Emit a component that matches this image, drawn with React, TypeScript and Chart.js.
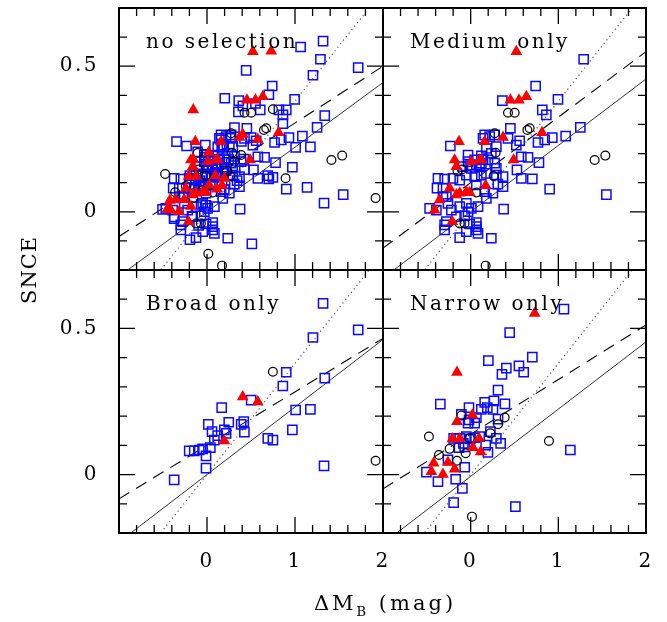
import React, { useEffect, useRef } from 'react';
import { Chart, registerables } from 'chart.js';

Chart.register(...registerables);

type Pt = [number, number];

// ---------- data (ΔM_B in mag, SNCE) ----------
const mediumSquares: Pt[] = [
  [1.289, 0.524], [0.741, 0.432], [0.996, 0.386], [0.361, 0.382], [0.817, 0.35], [0.863, 0.333],
  [1.251, 0.29], [0.453, 0.287], [1.084, 0.26], [0.931, 0.255], [0.844, 0.247], [0.768, 0.238],
  [-0.232, 0.226], [0.141, 0.252], [0.217, 0.258], [0.274, 0.264], [0.16, 0.264], [0.426, 0.252],
  [0.521, 0.229], [0.559, 0.244], [0.654, 0.187], [0.578, 0.189], [0.779, 0.169], [0.528, 0.144],
  [0.578, 0.115], [0.703, 0.113], [0.901, 0.078], [1.548, 0.059], [0.376, 0.009], [0.236, -0.091],
  [-0.125, -0.089], [-0.297, -0.062], [-0.468, 0.012], [0.065, -0.062], [0.065, -0.037], [-0.011, -0.042],
  [-0.049, -0.068], [-0.384, 0.081], [-0.297, 0.112], [-0.03, 0.195], [0.122, 0.192], [-0.03, 0.172],
  [0.046, 0.178], [0.122, 0.167], [0.197, 0.178], [0.274, 0.167], [-0.373, 0.115], [-0.316, 0.081],
  [-0.202, 0.115], [-0.125, 0.109], [-0.049, 0.126], [0.046, 0.121], [0.122, 0.126], [0.179, 0.132],
  [0.293, 0.126], [0.369, 0.121], [0.369, 0.086], [0.065, 0.092], [0.16, 0.069], [-0.277, 0.052],
  [-0.049, 0.029], [0.008, 0.012], [0.084, 0.018], [-0.297, -0.045], [0.065, -0.051], [0.084, -0.074],
  [-0.391, 0.006], [-0.316, 0.052], [-0.259, 0.029], [-0.22, 0.006], [-0.125, 0.018], [-0.03, 0.0],
  [-0.163, -0.017], [-0.068, -0.014], [-0.277, -0.034], [0.179, 0.046], [0.254, 0.064], [0.31, 0.095],
  [0.293, 0.149], [0.103, 0.155], [0.008, 0.149], [-0.087, 0.155], [0.179, 0.218], [0.293, 0.224],
  [0.236, 0.201], [-0.011, 0.159], [0.065, 0.162], [0.141, 0.18],
];
const mediumCircles: Pt[] = [
  [0.426, 0.34], [0.502, 0.34], [0.647, 0.281], [0.673, 0.287], [1.414, 0.178], [1.536, 0.193],
  [0.274, 0.27], [0.285, 0.203], [-0.15, 0.14], [-0.1, 0.145], [0.262, 0.123], [0.065, 0.066],
  [-0.125, -0.04], [-0.07, -0.04], [0.171, -0.185],
];
const mediumTriangles: Pt[] = [
  [0.521, 0.55], [0.453, 0.384], [0.551, 0.384], [0.635, 0.396], [0.814, 0.272], [-0.133, 0.241],
  [0.369, 0.256], [0.16, 0.241], [-0.183, 0.178], [0.49, 0.178], [0.122, 0.178], [0.171, 0.09],
  [-0.011, 0.066], [-0.125, 0.064], [-0.163, 0.058], [-0.24, 0.081], [-0.354, 0.041], [-0.411, 0.006],
  [-0.209, -0.034], [-0.163, 0.155], [0.008, 0.172], [0.103, 0.178], [-0.049, 0.069],
];

const broadSquares: Pt[] = [
  [1.319, 0.586], [1.718, 0.495], [1.204, 0.469], [0.901, 0.35], [0.862, 0.303], [1.338, 0.33],
  [0.502, 0.255], [0.167, 0.229], [1.007, 0.221], [1.175, 0.223], [0.015, 0.172], [0.247, 0.179],
  [0.388, 0.172], [0.418, 0.181], [0.057, 0.147], [0.197, 0.153], [0.217, 0.141], [0.425, 0.145],
  [0.121, 0.133], [0.083, 0.118], [0.97, 0.153], [0.691, 0.124], [0.749, 0.118], [-0.202, 0.081],
  [-0.145, 0.081], [-0.088, 0.084], [-0.05, 0.088], [0.038, 0.092], [-0.011, 0.064], [-0.011, 0.022],
  [-0.373, -0.018], [1.33, 0.03],
];
const broadCircles: Pt[] = [[0.749, 0.352], [1.916, 0.047]];
const broadTriangles: Pt[] = [[0.406, 0.266], [0.577, 0.249], [0.197, 0.115]];

const narrowSquares: Pt[] = [
  [1.064, 0.566], [0.445, 0.486], [0.703, 0.402], [0.202, 0.39], [0.407, 0.364], [0.551, 0.372],
  [0.357, 0.343], [0.605, 0.35], [0.312, 0.289], [-0.346, 0.241], [-0.019, 0.229], [0.16, 0.247],
  [0.266, 0.252], [0.122, 0.223], [0.19, 0.229], [0.254, 0.223], [0.391, 0.242], [-0.106, 0.206],
  [-0.019, 0.187], [0.065, 0.195], [0.312, 0.19], [0.225, 0.147], [0.293, 0.124], [0.342, 0.107],
  [0.171, 0.101], [0.197, 0.076], [1.137, 0.084], [-0.194, 0.124], [-0.125, 0.124], [-0.049, 0.13],
  [-0.003, 0.122], [0.046, 0.126], [0.103, 0.13], [-0.133, 0.092], [-0.068, 0.095], [-0.259, 0.05],
  [-0.068, 0.025], [-0.505, 0.008], [-0.373, -0.024], [-0.171, -0.016], [-0.095, -0.047], [-0.194, -0.096],
  [0.51, -0.11], [-0.03, 0.176], [0.046, 0.176], [-0.084, 0.107],
];
const narrowCircles: Pt[] = [
  [-0.476, 0.13], [-0.362, 0.067], [-0.24, 0.088], [-0.156, 0.047], [-0.106, 0.202], [-0.057, 0.073],
  [-0.011, 0.124], [0.225, 0.141], [0.312, 0.172], [0.388, 0.195], [0.893, 0.115], [0.015, -0.144],
];
const narrowTriangles: Pt[] = [
  [0.73, 0.552], [-0.156, 0.35], [-0.156, 0.181], [0.019, 0.204], [-0.209, 0.122], [-0.125, 0.122],
  [0.095, 0.124], [0.026, 0.092], [0.114, 0.078], [-0.422, 0.039], [-0.448, 0.01], [-0.316, 0.001],
  [-0.259, 0.042], [-0.183, 0.019],
];

// line fits: [intercept, slope]
const fitsAll = { solid: [0.0, 0.222], dashed: [0.11, 0.195], dotted: [0.0, 0.38] };
const fitsMedium = { solid: [0.0, 0.228], dashed: [0.1, 0.225], dotted: [0.0, 0.38] };
const fitsBroad = { solid: [0.0, 0.231], dashed: [0.1, 0.183], dotted: [0.0, 0.38] };
const fitsNarrow = { solid: [-0.006, 0.23], dashed: [0.138, 0.187], dotted: [0.0, 0.38] };

const xRange: [number, number] = [-1, 2];
const yRange: [number, number] = [-0.2, 0.7];
const xLabelValues = [0, 1, 2];
const yLabelValues = [0, 0.5];

const panelTitles = ['no selection', 'Medium only', 'Broad only', 'Narrow only'];

// ---------- layout ----------
const W = 667;
const H = 622;
const LEFT = 119;
const MIDX = 383;
const RIGHT = 646;
const TOP = 8;
const MIDY = 270;
const BOTTOM = 533;
const FONT = 'DejaVu Serif';
const FSIZE = 20;
const SPACING = '2.5px';

type Fits = { solid: number[]; dashed: number[]; dotted: number[] };
type Panel = {
  title: string;
  squares: Pt[];
  circles: Pt[];
  triangles: Pt[];
  fits: Fits;
  box: { l: number; t: number; r: number; b: number };
  showX: boolean;
  showY: boolean;
};

const panels: Panel[] = [
  {
    title: panelTitles[0],
    squares: [...mediumSquares, ...broadSquares, ...narrowSquares],
    circles: [...mediumCircles, ...broadCircles, ...narrowCircles],
    triangles: [...mediumTriangles, ...broadTriangles, ...narrowTriangles],
    fits: fitsAll,
    box: { l: LEFT, t: TOP, r: MIDX, b: MIDY },
    showX: false,
    showY: true,
  },
  {
    title: panelTitles[1],
    squares: mediumSquares,
    circles: mediumCircles,
    triangles: mediumTriangles,
    fits: fitsMedium,
    box: { l: MIDX, t: TOP, r: RIGHT, b: MIDY },
    showX: false,
    showY: false,
  },
  {
    title: panelTitles[2],
    squares: broadSquares,
    circles: broadCircles,
    triangles: broadTriangles,
    fits: fitsBroad,
    box: { l: LEFT, t: MIDY, r: MIDX, b: BOTTOM },
    showX: true,
    showY: true,
  },
  {
    title: panelTitles[3],
    squares: narrowSquares,
    circles: narrowCircles,
    triangles: narrowTriangles,
    fits: fitsNarrow,
    box: { l: MIDX, t: MIDY, r: RIGHT, b: BOTTOM },
    showX: true,
    showY: false,
  },
];

const near = (a: number, b: number) => Math.abs(a - b) < 1e-6;
const toXY = (pts: Pt[]) => pts.map(([x, y]) => ({ x, y }));
const fitLine = (f: number[]) => xRange.map((x) => ({ x, y: f[0] + f[1] * x }));

const zeroPad = (s: any) => {
  s.paddingTop = 0;
  s.paddingBottom = 0;
  s.paddingLeft = 0;
  s.paddingRight = 0;
};

const framePlugin = {
  id: 'frameTicks',
  beforeDraw(chart: any) {
    (chart.ctx as any).letterSpacing = SPACING;
  },
  afterDraw(chart: any) {
    const ctx = chart.ctx as CanvasRenderingContext2D;
    const a = chart.chartArea;
    const xs = chart.scales.x;
    const ys = chart.scales.y;
    ctx.save();
    ctx.strokeStyle = '#000';
    ctx.lineWidth = 1.3;
    ctx.beginPath();
    for (const t of xs.ticks) {
      const px = xs.getPixelForValue(t.value);
      const len = near(t.value, Math.round(t.value)) ? 16 : 8;
      ctx.moveTo(px, a.top);
      ctx.lineTo(px, a.top + len);
      ctx.moveTo(px, a.bottom);
      ctx.lineTo(px, a.bottom - len);
    }
    for (const t of ys.ticks) {
      const py = ys.getPixelForValue(t.value);
      const len = near(t.value * 2, Math.round(t.value * 2)) ? 16 : 8;
      ctx.moveTo(a.left, py);
      ctx.lineTo(a.left + len, py);
      ctx.moveTo(a.right, py);
      ctx.lineTo(a.right - len, py);
    }
    ctx.stroke();
    ctx.lineWidth = 2;
    ctx.strokeRect(a.left, a.top, a.right - a.left, a.bottom - a.top);
    const title = chart.options.plugins.frameTicks?.title ?? '';
    (ctx as any).letterSpacing = SPACING;
    ctx.fillStyle = '#000';
    ctx.font = `${FSIZE}px "${FONT}"`;
    ctx.textAlign = 'left';
    ctx.textBaseline = 'alphabetic';
    ctx.fillText(title, a.left + 27, a.top + 40);
    ctx.restore();
  },
};

function PanelChart({ panel }: { panel: Panel }) {
  const ref = useRef<HTMLCanvasElement | null>(null);
  useEffect(() => {
    if (!ref.current) return;
    const { box } = panel;
    const xAxisH = panel.showX ? 60 : 0;
    const chart = new Chart(ref.current, {
      type: 'scatter',
      data: {
        datasets: [
          {
            label: 'triangles',
            data: toXY(panel.triangles),
            pointStyle: 'triangle',
            pointRadius: 6.8,
            backgroundColor: '#ff0000',
            borderColor: '#ff0000',
            borderWidth: 0,
          },
          {
            label: 'circles',
            data: toXY(panel.circles),
            pointStyle: 'circle',
            pointRadius: 4.4,
            backgroundColor: 'rgba(0,0,0,0)',
            borderColor: '#000',
            borderWidth: 1.2,
          },
          {
            label: 'squares',
            data: toXY(panel.squares),
            pointStyle: 'rect',
            pointRadius: 6.5,
            backgroundColor: 'rgba(0,0,0,0)',
            borderColor: '#0a0aff',
            borderWidth: 1.5,
          },
          {
            label: 'solid',
            data: fitLine(panel.fits.solid),
            showLine: true,
            pointRadius: 0,
            borderColor: '#333',
            borderWidth: 1,
          },
          {
            label: 'dashed',
            data: fitLine(panel.fits.dashed),
            showLine: true,
            pointRadius: 0,
            borderColor: '#000',
            borderWidth: 1.1,
            borderDash: [12, 8],
          },
          {
            label: 'dotted',
            data: fitLine(panel.fits.dotted),
            showLine: true,
            pointRadius: 0,
            borderColor: '#555',
            borderWidth: 1.2,
            borderDash: [1.2, 3.3],
          },
        ] as any,
      },
      options: {
        animation: false,
        responsive: false,
        maintainAspectRatio: false,
        events: [],
        layout: {
          padding: { left: 0, top: box.t, right: W - box.r, bottom: H - box.b - xAxisH },
        },
        plugins: {
          legend: { display: false },
          tooltip: { enabled: false },
          frameTicks: { title: panel.title },
        } as any,
        scales: {
          x: {
            type: 'linear',
            position: 'bottom',
            min: xRange[0],
            max: xRange[1],
            grid: { display: false },
            border: { display: false },
            ticks: {
              display: panel.showX,
              stepSize: 0.2,
              autoSkip: false,
              maxRotation: 0,
              padding: 9,
              color: '#000',
              font: { family: FONT, size: FSIZE },
              callback: (v: any) => {
                const n = Number(v);
                const hit = xLabelValues.find((l) => near(l, n));
                return hit === undefined ? '' : String(hit);
              },
            },
            afterFit: (s: any) => {
              s.height = xAxisH;
              zeroPad(s);
            },
          },
          y: {
            type: 'linear',
            position: 'left',
            min: yRange[0],
            max: yRange[1],
            grid: { display: false },
            border: { display: false },
            ticks: {
              display: panel.showY,
              stepSize: 0.1,
              autoSkip: false,
              padding: 12,
              color: '#000',
              font: { family: FONT, size: FSIZE },
              callback: (v: any) => {
                const n = Number(v);
                const hit = yLabelValues.find((l) => near(l, n));
                return hit === undefined ? '' : String(hit);
              },
            },
            afterFit: (s: any) => {
              s.width = box.l;
              zeroPad(s);
            },
          },
        } as any,
      },
      plugins: [framePlugin as any],
    });
    return () => chart.destroy();
  }, [panel]);
  return (
    <canvas
      ref={ref}
      width={W}
      height={H}
      style={{ position: 'absolute', left: 0, top: 0, width: W, height: H }}
    />
  );
}

export default function App() {
  return (
    <div
      style={{
        position: 'absolute',
        left: 0,
        top: 0,
        width: W,
        height: H,
        background: '#fff',
        overflow: 'hidden',
      }}
    >
      {panels.map((p) => (
        <PanelChart key={p.title} panel={p} />
      ))}
      <div
        style={{
          position: 'absolute',
          left: 29,
          top: 270,
          transform: 'translate(-50%, -50%) rotate(-90deg)',
          fontFamily: FONT,
          fontSize: 21,
          letterSpacing: '1px',
          whiteSpace: 'nowrap',
          color: '#000',
        }}
      >
        SNCE
      </div>
      <div
        style={{
          position: 'absolute',
          left: 385,
          top: 605,
          transform: 'translate(-50%, -50%)',
          fontFamily: FONT,
          fontSize: 21,
          letterSpacing: '3px',
          whiteSpace: 'pre',
          color: '#000',
        }}
      >
        ΔM<sub style={{ fontSize: 13 }}>B</sub>{' '}(mag)
      </div>
    </div>
  );
}
